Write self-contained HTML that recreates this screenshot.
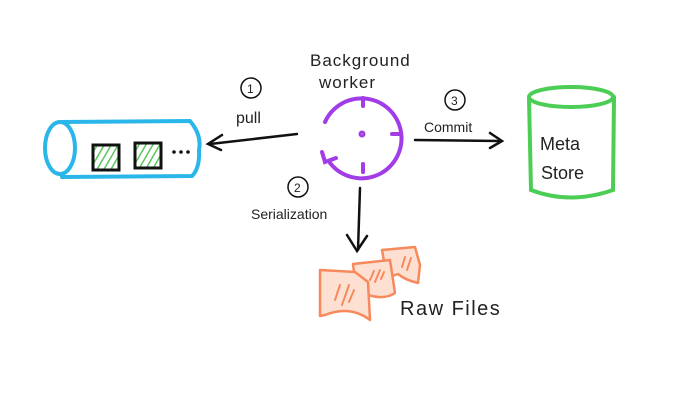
<!DOCTYPE html>
<html><head><meta charset="utf-8"><style>
html,body{margin:0;padding:0;background:#fff;}
svg{display:block;}
text{font-family:"Liberation Sans",sans-serif;fill:#222;}
</style></head><body>
<svg width="700" height="408" viewBox="0 0 700 408" xmlns="http://www.w3.org/2000/svg">
<defs>
<pattern id="h" width="6" height="6" patternUnits="userSpaceOnUse" patternTransform="rotate(30)">
<rect width="6" height="6" fill="#fff"/><line x1="0" y1="0" x2="0" y2="6" stroke="#5ac85a" stroke-width="3"/></pattern>
</defs>
<g fill="none" stroke="#2bb6ea" stroke-width="4" stroke-linecap="round">
<ellipse cx="60" cy="148" rx="15" ry="26"/>
<path d="M60 122 L190 121 Q202 135 199 150 Q200 168 192 176 L62 177"/>
</g>
<rect x="93" y="145" width="26" height="25" fill="url(#h)" stroke="#111" stroke-width="3"/>
<rect x="135" y="143" width="26" height="25" fill="url(#h)" stroke="#111" stroke-width="3"/>
<g fill="#111"><circle cx="174" cy="152" r="1.8"/><circle cx="181" cy="152" r="1.8"/><circle cx="188" cy="152" r="1.8"/></g>
<g fill="none" stroke="#111" stroke-width="2.5" stroke-linecap="round">
<path d="M297 134 L210 144"/><path d="M222 135 L208 144 L221 150"/>
<circle cx="251" cy="88" r="10" stroke-width="1.5"/>
<circle cx="455" cy="100" r="10" stroke-width="1.5"/>
<circle cx="298" cy="187" r="10" stroke-width="1.5"/>
<path d="M415 140 L500 141"/><path d="M490 133 L502 141 L490 148"/>
<path d="M360 188 L358 250"/><path d="M347 235 L357 251 L367 236"/>
</g>
<g font-size="12"><text x="247" y="93">1</text><text x="451" y="105">3</text><text x="294" y="192">2</text></g>
<text x="236" y="123" font-size="16">pull</text>
<text x="310" y="66" font-size="17" letter-spacing="1">Background</text>
<text x="319" y="88" font-size="17" letter-spacing="1">worker</text>
<text x="424" y="132" font-size="14">Commit</text>
<text x="251" y="219" font-size="14">Serialization</text>
<g fill="none" stroke="#a23ce6" stroke-width="4" stroke-linecap="round">
<path d="M325 122 A40 40 0 1 1 330 163"/>
<path d="M322 152 L325 162 L336 158"/>
<path d="M363 98 L363 106"/><path d="M363 164 L363 172"/><path d="M392 134 L400 134"/>
<circle cx="362" cy="134" r="1.5"/>
</g>
<g fill="none" stroke="#4ccd55" stroke-width="4" stroke-linecap="round">
<ellipse cx="571" cy="97" rx="42" ry="10"/>
<path d="M529 98 L531 190 Q570 205 613 190 L614 97"/>
</g>
<text x="540" y="150" font-size="18">Meta</text>
<text x="541" y="179" font-size="18">Store</text>
<g fill="#fde0d2" stroke="#f7895c" stroke-width="2.5" stroke-linejoin="round">
<path d="M382 250 L415 247 L420 265 L418 283 Q405 280 398 274 L387 278 Z"/>
<path d="M353 264 L390 260 L395 293 Q385 300 368 295 L357 297 Z"/>
<path d="M320 270 L355 272 L368 282 L370 320 Q350 305 325 315 L320 316 Z"/>
</g>
<g stroke="#f7895c" stroke-width="2" stroke-linecap="round">
<path d="M335 300 L340 285"/><path d="M342 305 L349 285"/><path d="M349 302 L354 290"/>
<path d="M370 280 L374 271"/><path d="M375 282 L380 270"/><path d="M381 279 L384 272"/>
<path d="M402 267 L405 257"/><path d="M407 270 L411 258"/>
</g>
<text x="400" y="315" font-size="20" letter-spacing="1.5">Raw Files</text>
</svg>
</body></html>
